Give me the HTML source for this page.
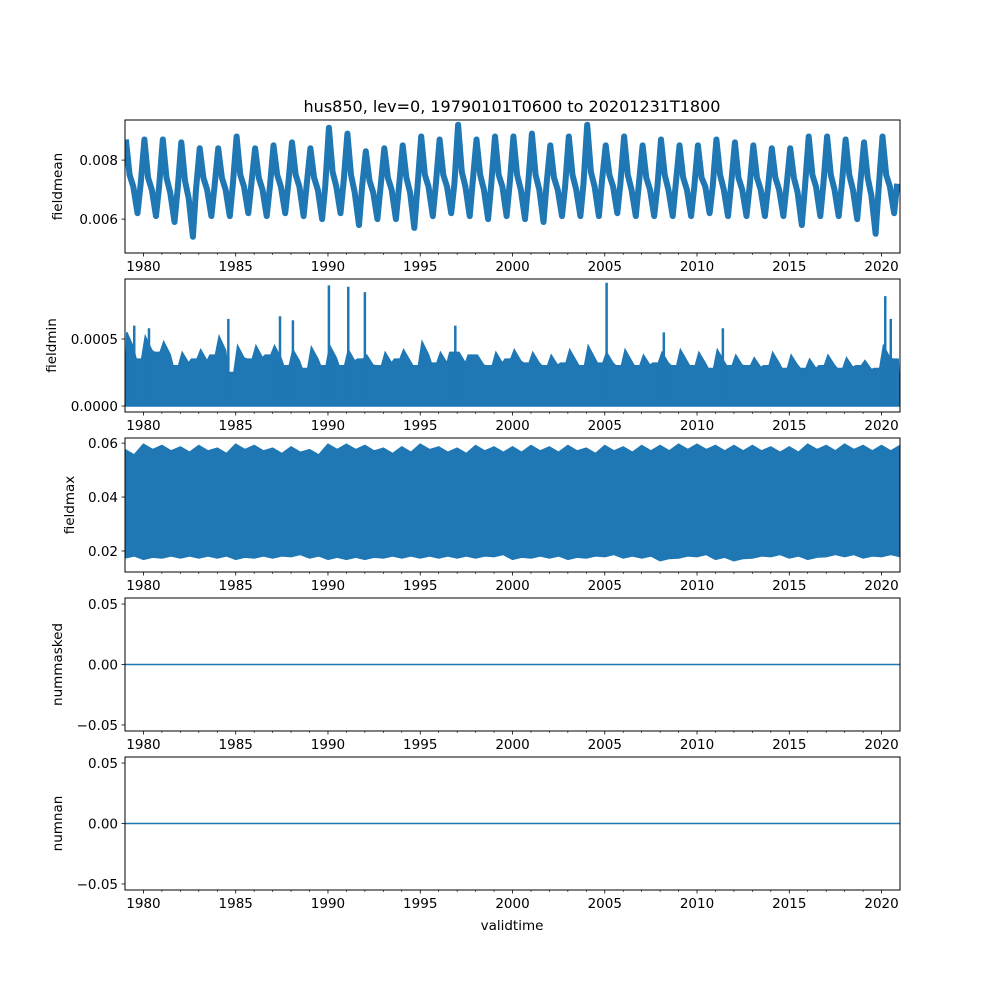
<!DOCTYPE html>
<html><head><meta charset="utf-8"><style>
html,body{margin:0;padding:0;background:#fff;}
svg text{font-family:"DejaVu Sans","Liberation Sans",sans-serif;font-size:13.5px;fill:#000;}
</style></head><body>
<svg id="fig" width="1000" height="1000" viewBox="0 0 1000 1000" xmlns="http://www.w3.org/2000/svg">
<rect width="1000" height="1000" fill="#fff"/>
<text x="512" y="112" text-anchor="middle" style="font-size:16px">hus850, lev=0, 19790101T0600 to 20201231T1800</text>
<text x="512" y="930" text-anchor="middle">validtime</text>
</svg>
<script>
// ---- data ----
const years = [1979,1980,1981,1982,1983,1984,1985,1986,1987,1988,1989,1990,1991,1992,1993,1994,1995,1996,1997,1998,1999,2000,2001,2002,2003,2004,2005,2006,2007,2008,2009,2010,2011,2012,2013,2014,2015,2016,2017,2018,2019,2020];
const meanPeak = [.0087,.0087,.0087,.0086,.0084,.0084,.0088,.0084,.0085,.0086,.0084,.0091,.0089,.0083,.0084,.0085,.0088,.0087,.0092,.0087,.0088,.0088,.0089,.0085,.0088,.0092,.0085,.0088,.0085,.0087,.0085,.0085,.0087,.0086,.0085,.0084,.0084,.0088,.0088,.0087,.0086,.0088];
const meanSpring = [.0075,.0074,.0074,.0073,.0074,.0074,.0075,.0074,.0075,.0075,.0074,.0076,.0075,.0073,.0074,.0074,.0075,.0075,.0076,.0075,.0075,.0075,.0075,.0074,.0075,.0076,.0075,.0075,.0074,.0075,.0074,.0074,.0075,.0074,.0074,.0074,.0074,.0075,.0075,.0075,.0074,.0075];
const meanSummer = [.0071,.0070,.0069,.0067,.0070,.0070,.0071,.0070,.0071,.0071,.0070,.0071,.0069,.0069,.0070,.0069,.0071,.0071,.0071,.0070,.0071,.0070,.0070,.0070,.0070,.0071,.0071,.0070,.0070,.0070,.0070,.0071,.0070,.0070,.0070,.0070,.0069,.0071,.0070,.0070,.0068,.0071];
const meanTrough = [.0062,.0061,.0059,.0054,.0061,.0061,.0062,.0061,.0062,.0061,.0060,.0062,.0058,.0060,.0060,.0057,.0061,.0062,.0061,.0060,.0061,.0060,.0059,.0061,.0061,.0061,.0062,.0061,.0061,.0061,.0061,.0062,.0061,.0061,.0061,.0061,.0058,.0061,.0061,.0060,.0055,.0062];
const meanAutumn = [.0072,.0071,.0070,.0070,.0071,.0072,.0072,.0071,.0072,.0072,.0071,.0073,.0071,.0071,.0071,.0071,.0072,.0072,.0073,.0072,.0072,.0072,.0072,.0071,.0072,.0073,.0072,.0072,.0071,.0072,.0071,.0071,.0072,.0071,.0071,.0071,.0071,.0072,.0072,.0072,.0071,.0072];
const minEnvA = [.00055,.00052,.00048,.00040,.00042,.00052,.00045,.00045,.00045,.00042,.00044,.00045,.00042,.00038,.00040,.00042,.00048,.00040,.00040,.00038,.00040,.00042,.00040,.00038,.00042,.00045,.00040,.00042,.00038,.00040,.00042,.00040,.00042,.00038,.00036,.00040,.00038,.00035,.00038,.00036,.00034,.00045];
const minEnvB = [.00035,.00040,.00030,.00035,.00038,.00025,.00035,.00038,.00030,.00028,.00030,.00030,.00035,.00030,.00035,.00030,.00032,.00040,.00038,.00030,.00035,.00032,.00030,.00032,.00030,.00032,.00030,.00030,.00032,.00030,.00030,.00028,.00030,.00030,.00030,.00028,.00028,.00030,.00028,.00030,.00028,.00035];
const minSpikeT = [1979.5,1980.3,1984.6,1987.4,1988.1,1990.05,1991.1,1992.0,1996.9,2005.1,2008.2,2011.4,2020.2,2020.5];
const minSpikeV = [.00060,.00058,.00065,.00067,.00064,.00090,.00089,.00085,.00060,.00092,.00055,.00058,.00082,.00065];
const maxHigh = [.0575,.0595,.0590,.0585,.0590,.0580,.0595,.0590,.0580,.0585,.0575,.0595,.0595,.0590,.0580,.0585,.0595,.0585,.0580,.0590,.0585,.0585,.0590,.0585,.0590,.0580,.0590,.0585,.0590,.0590,.0595,.0595,.0590,.0590,.0590,.0585,.0585,.0595,.0590,.0595,.0590,.0590];
const maxLow = [.0175,.0170,.0175,.0175,.0175,.0175,.0170,.0175,.0175,.0180,.0175,.0170,.0170,.0170,.0175,.0175,.0175,.0175,.0175,.0175,.0180,.0170,.0175,.0175,.0170,.0175,.0180,.0175,.0175,.0165,.0175,.0180,.0170,.0165,.0175,.0180,.0175,.0170,.0180,.0180,.0175,.0180];
const xTicks = [1980,1985,1990,1995,2000,2005,2010,2015,2020];
const p1Ticks = [0.006,0.008], p1Labels = ["0.006","0.008"];
const p2Ticks = [0,0.0005], p2Labels = ["0.0000","0.0005"];
const p3Ticks = [0.02,0.04,0.06], p3Labels = ["0.02","0.04","0.06"];
const zTicks = [-0.05,0,0.05], zLabels = ["\u22120.05","0.00","0.05"];

// ---- layout ----
const NS="http://www.w3.org/2000/svg", svg=document.getElementById('fig');
const L=125,R=900,X0=1979,X1=2021;
const C='#1f77b4';
function sx(t){return L+(t-X0)/(X1-X0)*(R-L);}
function mk(tag,attrs,parent){const e=document.createElementNS(NS,tag);for(const k in attrs)e.setAttribute(k,attrs[k]);(parent||svg).appendChild(e);return e;}
const panels=[
 {name:'fieldmean',top:120,bot:253,y0:0.00485,y1:0.00936,ticks:p1Ticks,labels:p1Labels,lx:62},
 {name:'fieldmin',top:279,bot:412,y0:-0.0000448,y1:0.000948,ticks:p2Ticks,labels:p2Labels,lx:56},
 {name:'fieldmax',top:438,bot:572,y0:0.0122,y1:0.0619,ticks:p3Ticks,labels:p3Labels,lx:74},
 {name:'nummasked',top:598,bot:731,y0:-0.055,y1:0.055,ticks:zTicks,labels:zLabels,lx:62},
 {name:'numnan',top:757,bot:890,y0:-0.055,y1:0.055,ticks:zTicks,labels:zLabels,lx:62}
];
panels.forEach((p,pi)=>{
 const g=mk('g',{});
 
 
 const sy=v=>p.bot-(v-p.y0)/(p.y1-p.y0)*(p.bot-p.top);
 const cp=mk('clipPath',{id:'cp'+pi},g);mk('rect',{x:L,y:p.top,width:R-L,height:p.bot-p.top},cp);
 const dg=mk('g',{'clip-path':'url(#cp'+pi+')'},g);
 if(pi===0){
  let pts=[];
  years.forEach((y,i)=>{
   pts.push([y+0.05,meanPeak[i]],[y+0.25,meanSpring[i]],[y+0.45,meanSummer[i]],[y+0.68,meanTrough[i]],[y+0.85,meanAutumn[i]]);
  });
  const d='M'+pts.map(q=>sx(q[0]).toFixed(1)+','+sy(q[1]).toFixed(1)).join('L');
  const ln=mk('path',{d:d,fill:'none',stroke:C,'stroke-width':6,'stroke-linejoin':'round'},dg);
  
  
 } else if(pi===1){
  let d='M'+sx(X0)+','+sy(0);
  years.forEach((y,i)=>{d+='L'+sx(y+0.1).toFixed(1)+','+sy(minEnvA[i]).toFixed(1)+'L'+sx(y+0.45).toFixed(1)+','+sy(minEnvA[i]*0.8).toFixed(1)+'L'+sx(y+0.6).toFixed(1)+','+sy(minEnvB[i]).toFixed(1)+'L'+sx(y+0.9).toFixed(1)+','+sy(minEnvB[i]).toFixed(1);});
  d+='L'+sx(X1)+','+sy(0)+'Z';
  const a=mk('path',{d:d,fill:C,stroke:C,'stroke-width':1.5},dg);
  
  
  minSpikeT.forEach((t,i)=>{
   const s=mk('line',{x1:sx(t),x2:sx(t),y1:sy(0),y2:sy(minSpikeV[i]),stroke:C,'stroke-width':2.5},dg);
   
   
  });
 } else if(pi===2){
  let top='',bot=[];
  years.forEach((y,i)=>{top+=(i?'L':'M')+sx(y).toFixed(1)+','+sy(maxHigh[i]).toFixed(1)+'L'+sx(y+0.5).toFixed(1)+','+sy(maxHigh[i]-0.002).toFixed(1);bot.push(sx(y).toFixed(1)+','+sy(maxLow[i]).toFixed(1),sx(y+0.5).toFixed(1)+','+sy(maxLow[i]+0.0008).toFixed(1));});
  top+='L'+sx(X1)+','+sy(maxHigh[maxHigh.length-1]);
  top+='L'+sx(X1)+','+sy(maxLow[maxLow.length-1]);
  const d=top+'L'+bot.reverse().join('L')+'Z';
  const a=mk('path',{d:d,fill:C,stroke:C,'stroke-width':2},dg);
  
  
 } else {
  const ln=mk('line',{x1:L,x2:R,y1:sy(0),y2:sy(0),stroke:C,'stroke-width':1.5},dg);
  
  
 }
 mk('rect',{x:L,y:p.top,width:R-L,height:p.bot-p.top,fill:'none',stroke:'#000','stroke-width':1},g);
 p.ticks.forEach((v,i)=>{
  mk('line',{x1:L-3.5,x2:L,y1:sy(v),y2:sy(v),stroke:'#000','stroke-width':0.8},g);
  const t=mk('text',{x:L-7,y:sy(v)+5,'text-anchor':'end'},g);t.textContent=p.labels[i];
  
  
 });
 for(let y=1980;y<=2020;y++){
  const maj=xTicks.includes(y);
  mk('line',{x1:sx(y),x2:sx(y),y1:p.bot,y2:p.bot+(maj?3.5:2),stroke:'#000','stroke-width':maj?0.8:0.6},g);
 }
 xTicks.forEach(y=>{
  const t=mk('text',{x:sx(y),y:p.bot+18,'text-anchor':'middle'},g);t.textContent=y;
  
  
 });
 const yl=mk('text',{x:p.lx,y:(p.top+p.bot)/2,'text-anchor':'middle',transform:'rotate(-90 '+p.lx+' '+(p.top+p.bot)/2+')'},g);
 yl.textContent=p.name;
 
 
});
</script>
</body></html>
